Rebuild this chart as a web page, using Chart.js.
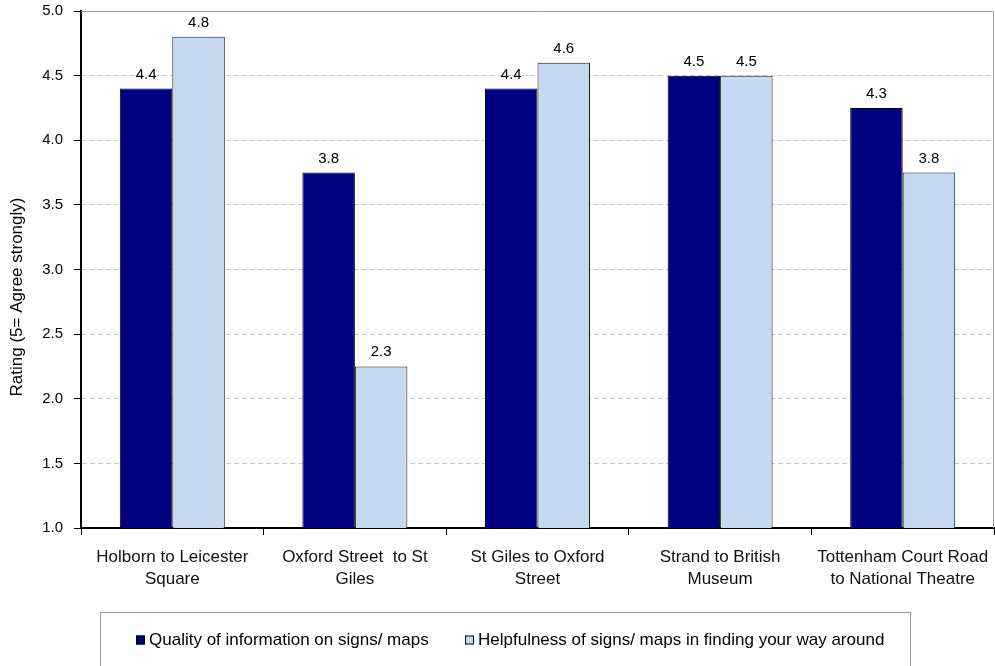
<!DOCTYPE html>
<html>
<head>
<meta charset="utf-8">
<script src="https://cdn.jsdelivr.net/npm/chart.js@4.4.0/dist/chart.umd.min.js"></script>
<style>
  html, body { margin: 0; padding: 0; background: #fff; }
  #wrap { width: 995px; height: 666px; }
</style>
</head>
<body>
<div id="wrap"><canvas id="chart" width="995" height="666"></canvas></div>
<script>
// Route names (two-line labels as in the original)
const categories = [
    ['Holborn to Leicester', 'Square'],
    ['Oxford Street  to St', 'Giles'],
    ['St Giles to Oxford', 'Street'],
    ['Strand to British', 'Museum'],
    ['Tottenham Court Road', 'to National Theatre']
];
const seriesNames = [
    'Quality of information on signs/ maps',
    'Helpfulness of signs/ maps in finding your way around'
];
const qualityValues = [4.4, 3.75, 4.4, 4.5, 4.25];
const helpfulValues = [4.8, 2.25, 4.6, 4.5, 3.75];
const yMin = 1.0;
const yMax = 5.0;
const yStep = 0.5;
const yTitle = 'Rating (5= Agree strongly)';

const FONT = "'Liberation Sans', Arial, sans-serif";
const colors = ['#000080', '#c6d9f0'];

/** Value labels above bars, plot frame, axis title and the boxed legend */
const extras = {
    id: 'extras',
    afterDatasetsDraw(chart) {
        const ctx = chart.ctx;
        ctx.save();
        ctx.font = '15px ' + FONT;
        ctx.fillStyle = '#000';
        ctx.textAlign = 'center';
        ctx.textBaseline = 'alphabetic';
        chart.data.datasets.forEach((ds, i) => {
            chart.getDatasetMeta(i).data.forEach((bar, j) => {
                ctx.fillText(ds.data[j].toFixed(1), bar.x, bar.y - 10);
            });
        });
        ctx.restore();
    },
    afterDraw(chart) {
        const ctx = chart.ctx;
        const a = chart.chartArea;
        ctx.save();
        // top + right frame
        ctx.strokeStyle = '#a0a0a0';
        ctx.lineWidth = 1;
        ctx.beginPath();
        ctx.moveTo(a.left, a.top + 0.5);
        ctx.lineTo(a.right - 0.5, a.top + 0.5);
        ctx.lineTo(a.right - 0.5, a.bottom);
        ctx.stroke();

        // y axis title (sits a bit below the plot centre in the original)
        ctx.save();
        ctx.translate(17, 297);
        ctx.rotate(-Math.PI / 2);
        ctx.font = '17px ' + FONT;
        ctx.fillStyle = '#000';
        ctx.textAlign = 'center';
        ctx.textBaseline = 'middle';
        ctx.fillText(yTitle, 0, 0);
        ctx.restore();

        // legend box
        ctx.strokeStyle = '#9a9a9a';
        ctx.strokeRect(100.5, 612.5, 810, 80);
        const starts = [136, 465];
        const cy = 640;
        ctx.font = '17px ' + FONT;
        ctx.textBaseline = 'middle';
        ctx.textAlign = 'left';
        chart.data.datasets.forEach((ds, i) => {
            const x = starts[i];
            ctx.fillStyle = ds.backgroundColor;
            ctx.fillRect(x, cy - 4.5, 9, 9);
            ctx.strokeStyle = '#000';
            ctx.strokeRect(x + 0.5, cy - 4, 8, 8);
            ctx.fillStyle = '#000';
            ctx.fillText(ds.label, x + 13, cy);
        });
        ctx.restore();
    }
};

new Chart(document.getElementById('chart'), {
    type: 'bar',
    data: {
        labels: categories,
        datasets: [
            {
                label: seriesNames[0],
                data: qualityValues,
                backgroundColor: colors[0],
                borderColor: '#000',
                borderWidth: 1,
                categoryPercentage: 0.575,
                barPercentage: 1.0
            },
            {
                label: seriesNames[1],
                data: helpfulValues,
                backgroundColor: colors[1],
                borderColor: '#1a1a1a',
                borderWidth: 1,
                categoryPercentage: 0.575,
                barPercentage: 1.0
            }
        ]
    },
    options: {
        responsive: false,
        animation: false,
        layout: { padding: { left: 0, right: 1, top: 11, bottom: 0 } },
        plugins: {
            legend: { display: false },
            tooltip: { enabled: false }
        },
        scales: {
            x: {
                grid: {
                    drawOnChartArea: false,
                    drawTicks: true,
                    tickLength: 7,
                    tickColor: '#000',
                    tickWidth: 1
                },
                border: { display: true, color: '#000', width: 2 },
                ticks: {
                    color: '#111',
                    padding: 11,
                    maxRotation: 0,
                    autoSkip: false,
                    font: { family: FONT, size: 17, lineHeight: 1.3 }
                },
                afterFit(scale) {
                    scale.height = 666 - 528;
                    // last label is wide; don't let it shrink the plot
                    scale.paddingLeft = 0;
                    scale.paddingRight = 0;
                }
            },
            y: {
                min: yMin,
                max: yMax,
                ticks: {
                    stepSize: yStep,
                    color: '#000',
                    padding: 11,
                    font: { family: FONT, size: 15 },
                    callback: v => v.toFixed(1)
                },
                grid: {
                    color: '#c8c8c8',
                    lineWidth: 1,
                    tickLength: 7,
                    tickColor: '#000',
                    tickWidth: 1
                },
                border: { display: true, color: '#000', width: 2, dash: [5, 3] },
                afterFit(scale) {
                    scale.width = 81;
                    // keep the plot top at 11px: tick padding would push it down
                    scale.paddingTop = 9;
                    scale.paddingBottom = 9;
                }
            }
        }
    },
    plugins: [extras]
});
</script>
</body>
</html>
